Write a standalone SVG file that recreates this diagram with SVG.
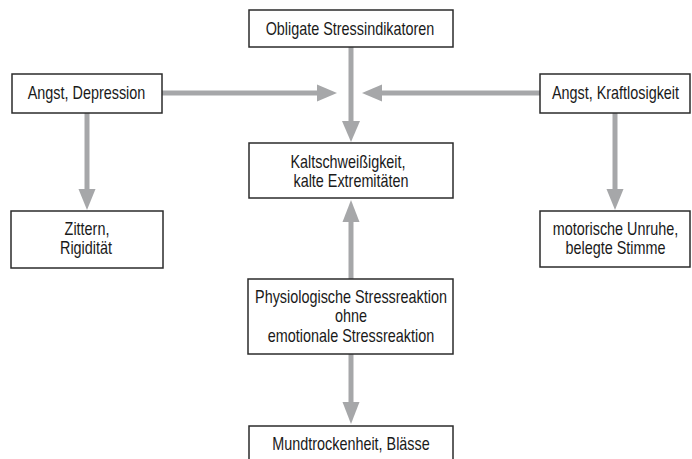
<svg xmlns="http://www.w3.org/2000/svg" width="692" height="459" viewBox="0 0 692 459">
<defs>
<style>
.box{fill:#fff;stroke:#2b2b2b;stroke-width:1.5}
.t{font-family:"Liberation Sans",Arial,sans-serif;font-size:18px;fill:#1a1a1a;text-anchor:middle}
.c{stroke:#a6a7a9;stroke-width:5;fill:none}
.h{fill:#a6a7a9}
</style>
</defs>
<g id="connectors">
<line class="c" x1="351" y1="47" x2="351" y2="124"/>
<polygon class="h" points="342,121 360,121 351,142"/>
<line class="c" x1="162" y1="93" x2="319" y2="93"/>
<polygon class="h" points="317,84.5 317,101.5 337,93"/>
<line class="c" x1="540" y1="93" x2="380" y2="93"/>
<polygon class="h" points="382,84.5 382,101.5 362,93"/>
<line class="c" x1="87" y1="113" x2="87" y2="192"/>
<polygon class="h" points="78.5,189 95.5,189 87,210"/>
<line class="c" x1="615" y1="113" x2="615" y2="192"/>
<polygon class="h" points="606.5,189 623.5,189 615,210"/>
<line class="c" x1="351" y1="279" x2="351" y2="219"/>
<polygon class="h" points="342.5,222 359.5,222 351,200"/>
<line class="c" x1="351" y1="354" x2="351" y2="405"/>
<polygon class="h" points="342.5,402 359.5,402 351,424"/>
</g>
<g id="n-obligate">
<rect class="box" x="249" y="10" width="204" height="37"/>
<text class="t" transform="translate(350,35) scale(0.8,1)">Obligate Stressindikatoren</text>
</g>
<g id="n-angst-depression">
<rect class="box" x="12" y="74" width="150" height="39"/>
<text class="t" transform="translate(86.5,99) scale(0.8,1)">Angst, Depression</text>
</g>
<g id="n-angst-kraftlosigkeit">
<rect class="box" x="540" y="74" width="150" height="39"/>
<text class="t" transform="translate(615.5,99) scale(0.8,1)">Angst, Kraftlosigkeit</text>
</g>
<g id="n-kaltschweiss">
<rect class="box" x="249" y="143" width="204" height="55"/>
<text class="t" transform="translate(348,168) scale(0.8,1)">Kaltschweißigkeit,</text>
<text class="t" transform="translate(351,187) scale(0.8,1)">kalte Extremitäten</text>
</g>
<g id="n-zittern">
<rect class="box" x="11" y="211" width="152" height="57"/>
<text class="t" transform="translate(87,235) scale(0.8,1)">Zittern,</text>
<text class="t" transform="translate(86,254) scale(0.8,1)">Rigidität</text>
</g>
<g id="n-motorisch">
<rect class="box" x="540" y="211" width="150" height="56"/>
<text class="t" transform="translate(615.5,235) scale(0.8,1)">motorische Unruhe,</text>
<text class="t" transform="translate(615.5,254) scale(0.8,1)">belegte Stimme</text>
</g>
<g id="n-physiologisch">
<rect class="box" x="248" y="279" width="205" height="75"/>
<text class="t" transform="translate(351,303) scale(0.8,1)">Physiologische Stressreaktion</text>
<text class="t" transform="translate(351,322) scale(0.8,1)">ohne</text>
<text class="t" transform="translate(351,342) scale(0.8,1)">emotionale Stressreaktion</text>
</g>
<g id="n-mund">
<rect class="box" x="249" y="426" width="204" height="40"/>
<text class="t" transform="translate(351,450) scale(0.8,1)">Mundtrockenheit, Blässe</text>
</g>
</svg>
